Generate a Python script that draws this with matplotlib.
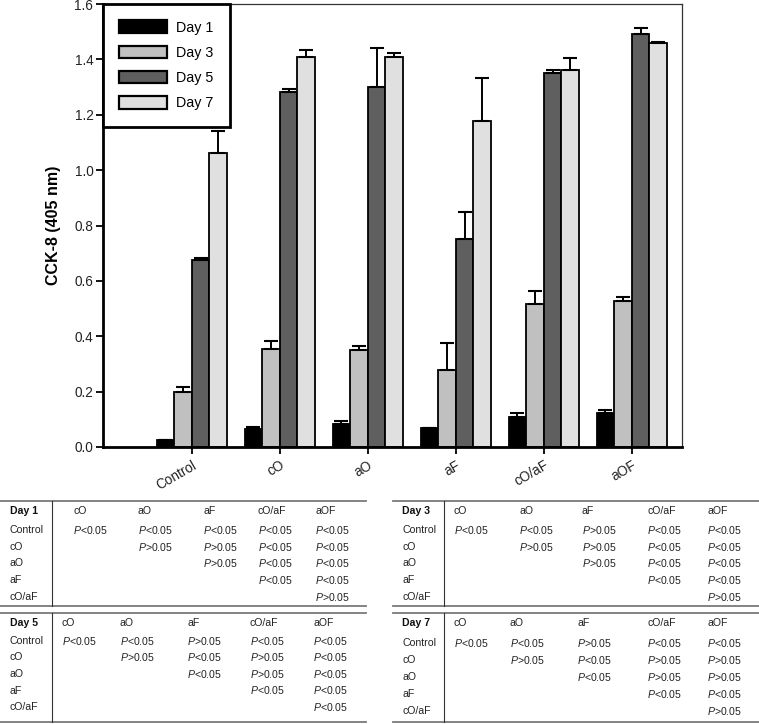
import numpy as np
import matplotlib
matplotlib.use("Agg")
import matplotlib.pyplot as plt
from matplotlib.lines import Line2D
import matplotlib.transforms as transforms

plt.rcParams['font.family'] = ['Liberation Sans', 'DejaVu Sans']
plt.rcParams['mathtext.fontset'] = 'custom'
plt.rcParams['mathtext.rm'] = 'Liberation Sans'
plt.rcParams['mathtext.it'] = 'Liberation Sans:italic'

# ---- data ----
groups = ["Control", "cO", "aO", "aF", "cO/aF", "aOF"]
days = ["Day 1", "Day 3", "Day 5", "Day 7"]
day_colors = ["#000000", "#c0c0c0", "#5f5f5f", "#e0e0e0"]

day1 = [0.025, 0.064, 0.084, 0.069, 0.107, 0.122]
day1_err = [0.0, 0.008, 0.011, 0.0, 0.015, 0.011]
day3 = [0.200, 0.353, 0.350, 0.279, 0.515, 0.527]
day3_err = [0.017, 0.031, 0.014, 0.098, 0.048, 0.014]
day5 = [0.677, 1.283, 1.301, 0.750, 1.352, 1.492]
day5_err = [0.004, 0.010, 0.139, 0.100, 0.009, 0.022]
day7 = [1.061, 1.408, 1.408, 1.178, 1.363, 1.459]
day7_err = [0.080, 0.027, 0.016, 0.154, 0.042, 0.005]

# pairwise comparison tables, '<' -> P<0.05, '>' -> P>0.05, ' ' -> empty
table_cols = ["cO", "aO", "aF", "cO/aF", "aOF"]
table_rows = ["Control", "cO", "aO", "aF", "cO/aF"]
p_day1 = ["<<<<<", " >><<", "  ><<", "   <<", "    >"]
p_day3 = ["<<><<", " >><<", "  ><<", "   <<", "    >"]
p_day5 = ["<<><<", " ><><", "  <><", "   <<", "    <"]
p_day7 = ["<<><<", " ><>>", "  <>>", "   <<", "    >"]

W, H = 759, 724
fig = plt.figure(figsize=(W / 100, H / 100), dpi=100)


def fx(px):
    return px / W


def fy(py):
    return 1 - py / H


# ---- bar chart ----
ax = fig.add_axes([fx(103), fy(447), fx(682) - fx(103), fy(4) - fy(447)])

x = np.arange(len(groups))
w = 0.2
series = [(day1, day1_err), (day3, day3_err), (day5, day5_err), (day7, day7_err)]
for i, (vals, errs) in enumerate(series):
    pos = x + (i - 1.5) * w
    ax.bar(pos, vals, width=w, color=day_colors[i], edgecolor="black",
           linewidth=1.3, label=days[i], zorder=2)
    ax.errorbar(pos, vals, yerr=[np.zeros(len(errs)), errs], fmt="none",
                ecolor="black", elinewidth=1.4, capsize=5, capthick=1.5, zorder=3)

ax.set_xlim(-1.01, 5.57)
ax.set_ylim(0, 1.6)
ax.set_yticks(np.arange(0, 1.61, 0.2))
ax.set_yticklabels([f"{v:.1f}" for v in np.arange(0, 1.61, 0.2)])
ax.set_xticks(x)
ax.set_xticklabels(groups, rotation=30, ha="right", va="top", rotation_mode="anchor")
offset = transforms.ScaledTranslation(6 / 100, -2 / 100, fig.dpi_scale_trans)
for lab in ax.get_xticklabels():
    lab.set_transform(lab.get_transform() + offset)

ax.tick_params(axis="both", direction="out", length=5, width=1.3,
               labelsize=9.8, colors="black", labelcolor="#222222")
ax.tick_params(axis="y", pad=2)
ax.tick_params(axis="x", pad=3)
for s in ["left", "bottom"]:
    ax.spines[s].set_linewidth(2.0)
for s in ["top", "right"]:
    ax.spines[s].set_linewidth(0.9)
    ax.spines[s].set_color("#333333")

ax.set_ylabel("CCK-8 (405 nm)", fontsize=11.5, fontweight="bold", labelpad=10)

leg = ax.legend(loc="upper left", bbox_to_anchor=(0, 1), borderaxespad=0,
                fancybox=False, framealpha=1, edgecolor="black",
                fontsize=10.3, handlelength=3.3, handleheight=0.95,
                labelspacing=0.78, borderpad=1.15, handletextpad=0.65)
leg.get_frame().set_linewidth(2.0)
for p in leg.get_patches():
    p.set_linewidth(1.6)


# ---- comparison tables ----
def draw_table(title, pvals, x0, x1, xsep, xlab, xcols, ytop, yhead, yrows, ybot):
    fig.add_artist(Line2D([fx(x0), fx(x1)], [fy(ytop), fy(ytop)],
                          color="#7a7a7a", lw=1.3))
    fig.add_artist(Line2D([fx(x0), fx(x1)], [fy(ybot), fy(ybot)],
                          color="#7a7a7a", lw=1.3))
    fig.add_artist(Line2D([fx(xsep), fx(xsep)], [fy(ytop), fy(ybot)],
                          color="#333333", lw=0.8))
    fs = 7.6
    fig.text(fx(xlab), fy(yhead), title, fontsize=fs, fontweight="bold",
             va="center", ha="left", color="#111111")
    for c, name in enumerate(table_cols):
        fig.text(fx(xcols[c]), fy(yhead), name, fontsize=fs, va="center",
                 ha="left", color="#222222")
    for r, name in enumerate(table_rows):
        fig.text(fx(xlab), fy(yrows[r]), name, fontsize=fs, va="center",
                 ha="left", color="#222222")
        for c, sign in enumerate(pvals[r]):
            if sign == " ":
                continue
            fig.text(fx(xcols[c]), fy(yrows[r]), r"$\mathit{P}$" + sign + "0.05",
                     fontsize=fs, va="center", ha="left", color="#222222")


rows_top = [530, 546.7, 563.3, 580, 596.7]
rows_bot = [640.7, 657.3, 674, 690.5, 707.2]
rows_bot7 = [643, 660, 677, 694, 711]

draw_table("Day 1", p_day1, 0, 366, 52, 10, [73, 138, 203, 258, 315],
           501, 511.5, rows_top, 606)
draw_table("Day 3", p_day3, 393, 759, 444, 402, [454, 519, 582, 647, 707],
           501, 511.5, rows_top, 606)
draw_table("Day 5", p_day5, 0, 366, 52, 10, [62, 120, 187, 250, 313],
           613, 622.5, rows_bot, 722)
draw_table("Day 7", p_day7, 393, 759, 444, 402, [454, 510, 577, 647, 707],
           613, 622.5, rows_bot7, 722)

fig.savefig("out.png", dpi=100)
